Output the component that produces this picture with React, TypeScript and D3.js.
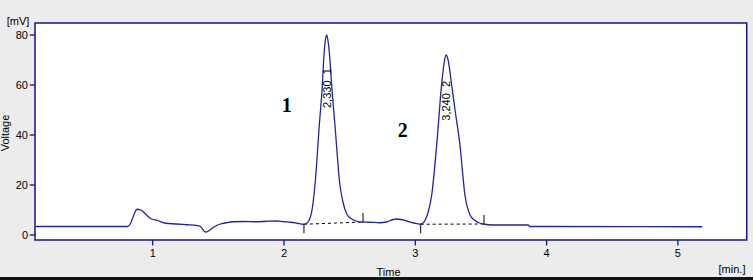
import React from "react";
import * as d3 from "d3";

// ---- data ----
const times = [
  0.109, 0.81, 0.83, 0.86, 0.88, 0.91, 0.94, 0.97, 0.99, 1.04, 1.09, 1.18, 1.26, 1.335, 1.36, 1.385,
  1.40, 1.42, 1.44, 1.48, 1.51, 1.56, 1.61, 1.70, 1.79, 1.87, 1.94, 2.00, 2.05, 2.10, 2.147, 2.17,
  2.19, 2.21, 2.236, 2.269, 2.292, 2.302, 2.315, 2.325, 2.337, 2.35, 2.363, 2.388, 2.426, 2.45, 2.477,
  2.516, 2.55, 2.59, 2.65, 2.73, 2.78, 2.83, 2.858, 2.89, 2.934, 2.99, 3.036, 3.06, 3.08, 3.099, 3.125,
  3.163, 3.20, 3.22, 3.234, 3.25, 3.277, 3.30, 3.34, 3.378, 3.417, 3.45, 3.49, 3.518, 3.594, 3.86, 3.87,
  5.186,
];
const voltages = [
  3.4, 3.4, 4.5, 8.5, 10.3, 10.0, 8.7, 7.2, 6.4, 5.8, 4.8, 4.4, 4.1, 3.8, 3.5, 2.0,
  1.2, 1.4, 2.2, 3.6, 4.3, 4.9, 5.3, 5.4, 5.3, 5.5, 5.6, 5.3, 5.1, 4.7, 4.3, 4.6,
  5.8, 9.0, 20, 44, 60, 70, 78, 80, 77, 70, 60, 44, 20, 13, 8.5,
  6.4, 5.6, 5.2, 5.1, 4.9, 5.2, 6.2, 6.4, 6.2, 5.6, 4.8, 4.3, 4.8, 6.5, 9.3, 16,
  36, 60, 69, 72, 70, 60, 51, 36, 16, 8, 6, 4.8, 4.4, 4.0, 4.0, 3.4,
  3.3,
];

// integration baselines (start/end time and voltage)
const peakStartT = [2.152, 3.041];
const peakStartV = [4.3, 4.3];
const peakEndT = [2.602, 3.523];
const peakEndV = [5.2, 4.4];

// peak retention labels
const peakTimes = [2.33, 3.24];
const peakHeights = [80, 72];
const peakLabels = ["2,330  1", "3,240  2"];

// big annotation numbers
const annoText = ["1", "2"];
const annoT = [2.02, 2.905];
const annoV = [49.1, 39.2];

const xTicks = [1, 2, 3, 4, 5];
const yTicks = [0, 20, 40, 60, 80];

const W = 753;
const H = 280;
const frame = { left: 35, top: 23, right: 746.7, bottom: 240 };
const SANS = "'Liberation Sans', Arial, sans-serif";
const SERIF = "'Liberation Serif', 'Times New Roman', serif";
const BLUE = "#2222a4";
const NAVY = "#14148c";

export default function App() {
  const x = d3.scaleLinear().domain([0, 5]).range([21.4, 21.4 + 5 * 131.3]);
  const y = d3.scaleLinear().domain([0, 80]).range([235, 35]);

  const pts = times.map((t, i) => [t, voltages[i]] as [number, number]);
  const line = d3
    .line<[number, number]>()
    .x((d) => x(d[0]))
    .y((d) => y(d[1]))
    .curve(d3.curveMonotoneX);

  return (
    <svg
      width={W}
      height={H}
      style={{ position: "absolute", left: 0, top: 0, display: "block" }}
    >
      <rect x={0} y={0} width={W} height={H} fill="#ececec" />
      <rect
        x={frame.left}
        y={frame.top}
        width={frame.right - frame.left}
        height={frame.bottom - frame.top}
        fill="#ffffff"
        stroke={NAVY}
        strokeWidth={1.5}
      />
      <rect x={0} y={277} width={W} height={3} fill="#141414" />

      {/* y axis */}
      {yTicks.map((v) => (
        <g key={"y" + v}>
          <line x1={29.7} x2={frame.left} y1={y(v)} y2={y(v)} stroke={NAVY} strokeWidth={1.3} />
          <text
            x={28}
            y={y(v)}
            textAnchor="end"
            dominantBaseline="central"
            fontFamily={SANS}
            fontSize={11}
            fill="#000"
          >
            {v}
          </text>
        </g>
      ))}
      <text x={18} y={21} textAnchor="middle" dominantBaseline="central" fontFamily={SANS} fontSize={11}>
        [mV]
      </text>
      <text
        transform={`translate(5,133) rotate(-90)`}
        textAnchor="middle"
        dominantBaseline="central"
        fontFamily={SANS}
        fontSize={11}
      >
        Voltage
      </text>

      {/* x axis */}
      {xTicks.map((t) => (
        <g key={"x" + t}>
          <line x1={x(t)} x2={x(t)} y1={frame.bottom} y2={245.5} stroke={NAVY} strokeWidth={1.3} />
          <text
            x={x(t)}
            y={253}
            textAnchor="middle"
            dominantBaseline="central"
            fontFamily={SANS}
            fontSize={11}
          >
            {t}
          </text>
        </g>
      ))}
      <text x={388.5} y={272} textAnchor="middle" dominantBaseline="central" fontFamily={SANS} fontSize={11}>
        Time
      </text>
      <text x={732} y={268.5} textAnchor="middle" dominantBaseline="central" fontFamily={SANS} fontSize={11}>
        [min.]
      </text>

      {/* integration baselines */}
      {peakStartT.map((t0, i) => (
        <g key={"b" + i}>
          <line
            x1={x(t0)}
            y1={y(peakStartV[i])}
            x2={x(peakEndT[i])}
            y2={y(peakEndV[i])}
            stroke="#000"
            strokeWidth={1}
            strokeDasharray="3,3"
          />
          <line
            x1={x(t0)}
            x2={x(t0)}
            y1={y(peakStartV[i])}
            y2={y(peakStartV[i]) + 9}
            stroke="#000"
            strokeWidth={1}
          />
          <line
            x1={x(peakEndT[i])}
            x2={x(peakEndT[i])}
            y1={y(peakEndV[i])}
            y2={y(peakEndV[i]) - 9}
            stroke="#000"
            strokeWidth={1}
          />
        </g>
      ))}

      {/* trace */}
      <path d={line(pts) || ""} fill="none" stroke={BLUE} strokeWidth={1.3} />

      {/* peak labels */}
      {peakTimes.map((t, i) => (
        <text
          key={"pl" + i}
          transform={`translate(${x(t) - 0.5},${y(peakHeights[i] * 0.635)}) rotate(-90)`}
          textAnchor="start"
          dominantBaseline="central"
          fontFamily={SANS}
          fontSize={11}
          fill="#000"
          style={{ whiteSpace: "pre" }}
        >
          {peakLabels[i]}
        </text>
      ))}

      {/* big annotations */}
      {annoText.map((s, i) => (
        <text
          key={"a" + i}
          x={x(annoT[i])}
          y={y(annoV[i])}
          textAnchor="middle"
          fontFamily={SERIF}
          fontWeight="bold"
          fontSize={20}
          fill="#000"
        >
          {s}
        </text>
      ))}
    </svg>
  );
}
